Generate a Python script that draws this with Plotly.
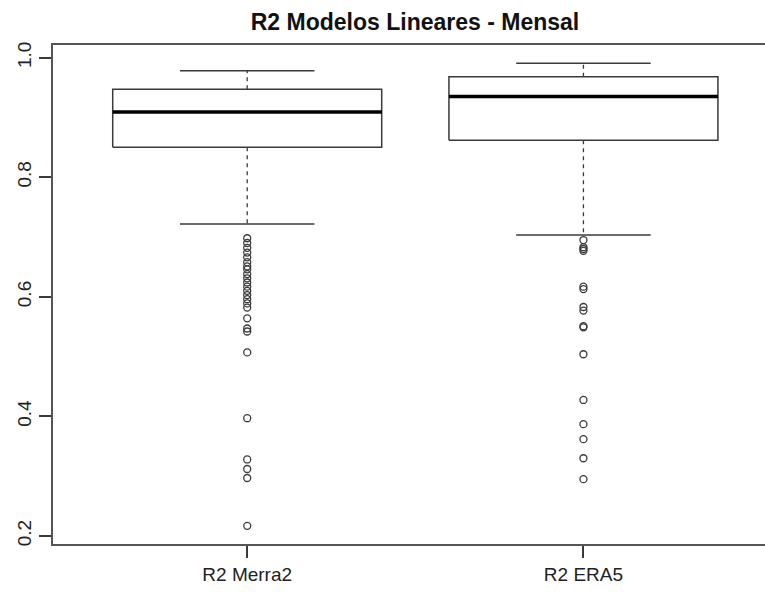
import plotly.graph_objects as go

# ---- data ----
categories = ["R2 Merra2", "R2 ERA5"]
q1 = [0.850, 0.862]
medians = [0.909, 0.935]
q3 = [0.947, 0.968]
whisker_low = [0.722, 0.7035]
whisker_high = [0.978, 0.9905]
outliers_merra2 = [0.698, 0.690, 0.682, 0.674, 0.666, 0.658, 0.651, 0.646, 0.638, 0.631,
                   0.624, 0.617, 0.610, 0.603, 0.596, 0.589, 0.582, 0.564, 0.547, 0.542,
                   0.507, 0.397, 0.328, 0.312, 0.297, 0.217]
outliers_era5 = [0.695, 0.683, 0.680, 0.677, 0.617, 0.613, 0.583, 0.577, 0.551, 0.549,
                 0.504, 0.4275, 0.387, 0.362, 0.330, 0.295]
y_ticks = [0.2, 0.4, 0.6, 0.8, 1.0]

# ---- styles ----
BOX_HALF = 0.4
CAP_HALF = 0.2
FONT = "Liberation Sans, Arial, sans-serif"
LINE_COL = "#3a3a3a"

positions = [i + 1 for i in range(len(categories))]

box_x, box_y = [], []
med_x, med_y = [], []
wh_x, wh_y = [], []
cap_x, cap_y = [], []
for p, a, m, b, lo, hi in zip(positions, q1, medians, q3, whisker_low, whisker_high):
    box_x += [p - BOX_HALF, p + BOX_HALF, p + BOX_HALF, p - BOX_HALF, p - BOX_HALF, None]
    box_y += [a, a, b, b, a, None]
    med_x += [p - BOX_HALF, p + BOX_HALF, None]
    med_y += [m, m, None]
    wh_x += [p, p, None, p, p, None]
    wh_y += [b, hi, None, a, lo, None]
    cap_x += [p - CAP_HALF, p + CAP_HALF, None, p - CAP_HALF, p + CAP_HALF, None]
    cap_y += [hi, hi, None, lo, lo, None]

fig = go.Figure()
fig.add_trace(go.Scatter(x=wh_x, y=wh_y, mode="lines",
                         line=dict(color=LINE_COL, width=1.3, dash="4px,4px"),
                         hoverinfo="skip", showlegend=False))
fig.add_trace(go.Scatter(x=cap_x, y=cap_y, mode="lines",
                         line=dict(color=LINE_COL, width=1.5),
                         hoverinfo="skip", showlegend=False))
fig.add_trace(go.Scatter(x=box_x, y=box_y, mode="lines",
                         line=dict(color=LINE_COL, width=1.5),
                         hoverinfo="skip", showlegend=False))
fig.add_trace(go.Scatter(x=med_x, y=med_y, mode="lines",
                         line=dict(color="#000000", width=3.5),
                         hoverinfo="skip", showlegend=False))
for p, outs in zip(positions, [outliers_merra2, outliers_era5]):
    fig.add_trace(go.Scatter(x=[p] * len(outs), y=outs, mode="markers",
                             marker=dict(symbol="circle-open", size=7,
                                         color=LINE_COL, line=dict(width=1.3)),
                             showlegend=False))

fig.update_layout(
    width=765, height=592,
    margin=dict(l=53, r=0, t=45, b=48),
    paper_bgcolor="white", plot_bgcolor="white",
    font=dict(family=FONT, size=19, color="#222222"),
    title=dict(text="<b>R2 Modelos Lineares - Mensal</b>",
               x=415 / 765, xref="container", xanchor="center",
               y=1 - 22 / 592, yref="container", yanchor="middle",
               font=dict(family=FONT, size=23, color="#111111")),
)
fig.update_xaxes(range=[0.4224, 2.540], tickmode="array", tickvals=positions,
                 ticktext=categories, ticks="outside", ticklen=12, tickwidth=1.5,
                 tickcolor=LINE_COL, showline=True, linecolor="#555555", linewidth=2,
                 mirror=True, showgrid=False, zeroline=False)
fig.update_yaxes(range=[0.1866, 1.0212], tickmode="array", tickvals=y_ticks,
                 ticktext=[f"{v:.1f}" for v in y_ticks], tickangle=-90,
                 ticks="outside", ticklen=12, tickwidth=1.5, tickcolor=LINE_COL,
                 showline=True, linecolor="#555555", linewidth=2, mirror=False,
                 showgrid=False, zeroline=False)

fig.write_html("out.html")
